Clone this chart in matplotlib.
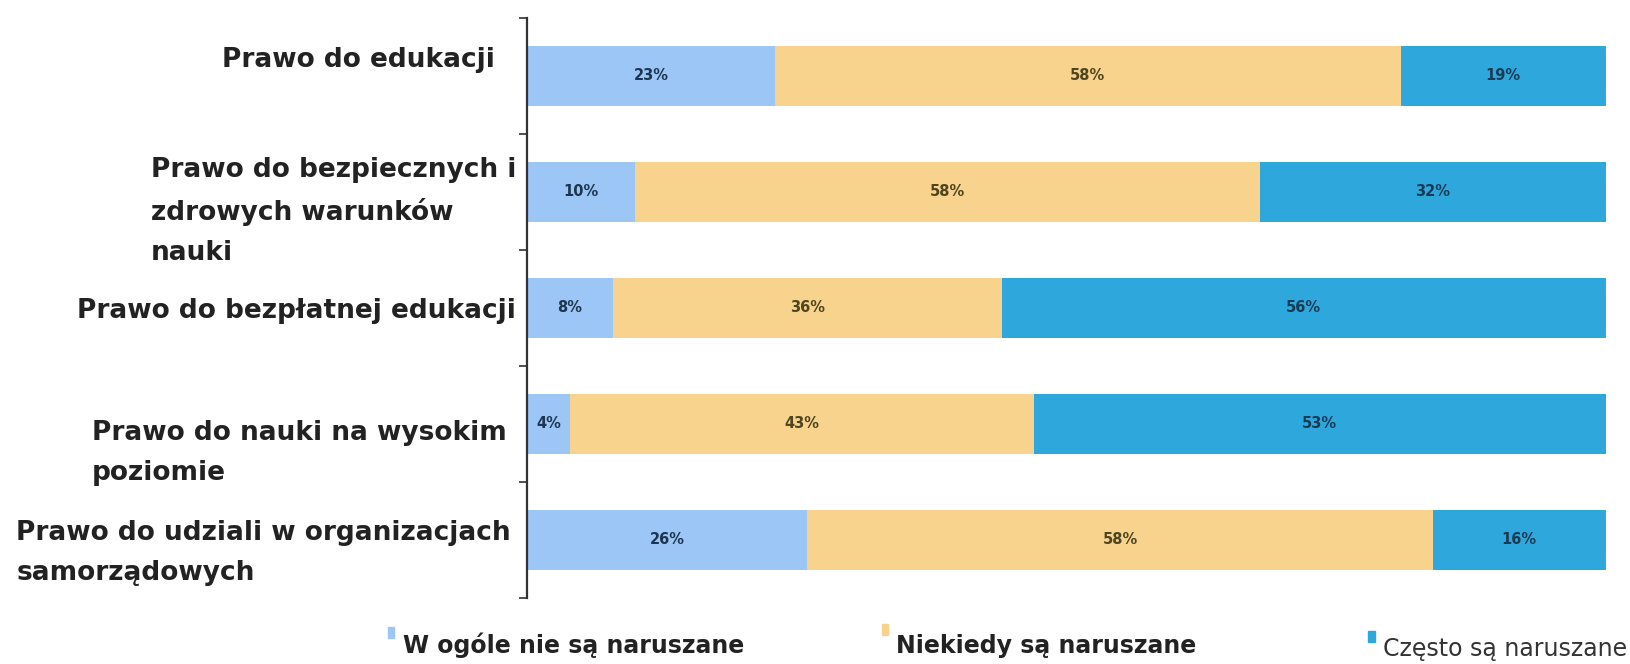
import matplotlib
matplotlib.use("Agg")
import matplotlib.pyplot as plt
from matplotlib.patches import Rectangle

categories = [
    "Prawo do edukacji",
    "Prawo do bezpiecznych i\nzdrowych warunków\nnauki",
    "Prawo do bezpłatnej edukacji",
    "Prawo do nauki na wysokim\npoziomie",
    "Prawo do udziali w organizacjach\nsamorządowych",
]
never = [23, 10, 8, 4, 26]
sometimes = [58, 58, 36, 43, 58]
often = [19, 32, 56, 53, 16]
series_names = ["W ogóle nie są naruszane", "Niekiedy są naruszane", "Często są naruszane"]

colors = ["#9cc6f6", "#f7d38d", "#2ea8dc"]
text_colors = ["#1e3550", "#4e4520", "#173a55"]
label_offsets = [-0.14, 0.17, 0.03, 0.25, 0.11]
label_right = [-3.0, -1.0, -1.0, -1.9, -1.5]

fig = plt.figure(figsize=(16.3, 6.64), dpi=100)
ax = fig.add_axes([0.3233, 0.0994, 0.985 - 0.3233, 0.973 - 0.0994])

ys = list(range(len(categories)))
left = [0] * len(categories)
for vals, c, tc in zip([never, sometimes, often], colors, text_colors):
    ax.barh(ys, vals, left=left, height=0.52, color=c, edgecolor="none")
    for y, v, l in zip(ys, vals, left):
        ax.text(l + v / 2, y, f"{v}%", ha="center", va="center", fontsize=10.5,
                fontweight="bold", color=tc, family="DejaVu Sans")
    left = [a + b for a, b in zip(left, vals)]

ax.set_xlim(0, 100)
ax.set_ylim(len(categories) - 0.5, -0.5)
ax.set_xticks([])
ax.set_yticks([i - 0.5 for i in range(len(categories) + 1)])
ax.set_yticklabels([])
ax.tick_params(axis="y", direction="out", length=6, width=1.2, color="#333333")
for s in ["top", "right", "bottom"]:
    ax.spines[s].set_visible(False)
ax.spines["left"].set_color("#333333")
ax.spines["left"].set_linewidth(1.6)

for y, cat, off, xr in zip(ys, categories, label_offsets, label_right):
    ax.text(xr, y + off, cat, ha="right", va="center", multialignment="left",
            fontsize=19, fontweight="bold", color="#222222", linespacing=1.68,
            family="DejaVu Sans")

# legend
leg_x = [0.2475, 0.5497, 0.8485]
leg_y = [0.017, 0.017, 0.012]
mark_x = [0.238, 0.541, 0.8395]
mark_y = [0.039, 0.044, 0.033]
weights = ["bold", "bold", "normal"]
for name, c, x, y, mx, my, w in zip(series_names, colors, leg_x, leg_y, mark_x, mark_y, weights):
    fig.patches.append(Rectangle((mx, my), 0.004, 0.016,
                                 transform=fig.transFigure, color=c, figure=fig))
    fig.text(x, y, name, ha="left", va="baseline", fontsize=17,
             fontweight=w, color="#222222" if w == "bold" else "#333333",
             family="DejaVu Sans")

fig.savefig("out.png", dpi=100, facecolor="white")
